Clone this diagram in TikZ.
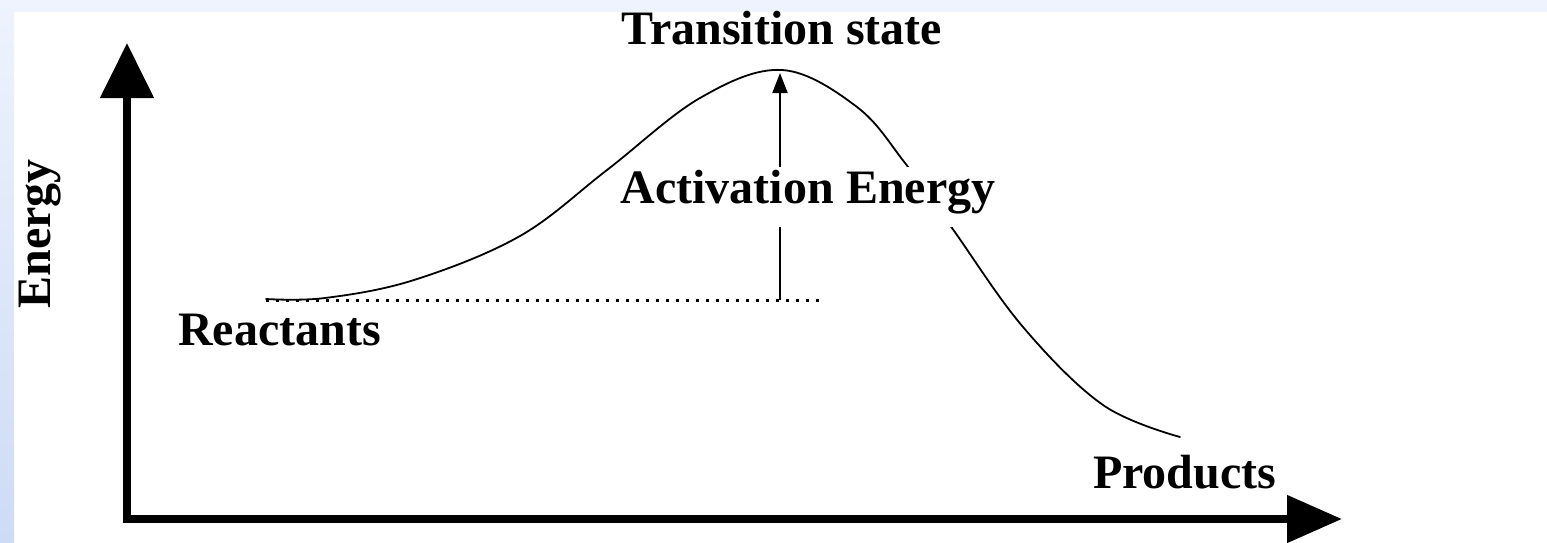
\documentclass[tikz,border=0pt]{standalone}
\usepackage{fontspec}
\setmainfont{Liberation Serif}
\usetikzlibrary{arrows.meta}
\definecolor{bandtop}{HTML}{EEF3FD}
\definecolor{bandbot}{HTML}{CEDBF5}
\begin{document}
\begin{tikzpicture}[x=1pt,y=-1pt,
  lbl/.style={font=\fontsize{48}{58}\selectfont\bfseries, inner sep=0pt},
  axisline/.style={line width=8pt, line join=miter},
  curveline/.style={line width=1.8pt, line join=round, line cap=round},
  dotline/.style={line width=3pt, dash pattern=on 3pt off 7pt},
  aearrow/.style={line width=2pt, -{Triangle[length=20pt,width=15pt]}}]
\useasboundingbox (0,0) rectangle (1547,543);
\fill[white] (0,0) rectangle (1547,543);
% background bands
\fill[bandtop] (0,0) rectangle (1547,12);
\shade[top color=bandtop, bottom color=bandbot] (0,0) rectangle (14,543);
% axes
\coordinate (ytip) at (127,43);
\coordinate (xtip) at (1342,519);
\draw[axisline, {Triangle[length=55pt,width=52pt]}-{Triangle[length=55pt,width=46pt]}] (ytip) |- (xtip);
% energy curve
\draw[curveline] plot[smooth, tension=0.6] coordinates {
 (266,299) (325,298) (414,280) (520,236) (607,170) (700,98) (782,70)
 (857,107) (905,163) (952,228) (1023,327) (1103,405) (1180,437)};
% reactant level
\coordinate (lvl0) at (266,300);
\coordinate (lvl1) at (823,300);
\draw[dotline] (lvl0) -- (lvl1);
% activation energy arrow
\coordinate (aebase) at (780,300);
\coordinate (tstop) at (780,73);
\draw[aearrow] (aebase) -- (tstop);
% labels
\node[lbl, anchor=base] (ts) at (782,45) {Transition state};
\node[lbl, anchor=base, fill=white, text height=36pt, text depth=24pt, inner xsep=6pt] (ae) at (808,203) {Activation Energy};
\node[lbl, anchor=base west] (reac) at (178,345) {Reactants};
\node[lbl, anchor=base west] (prod) at (1093,488) {Products};
\node[lbl, anchor=base, rotate=90] (en) at (50,234) {Energy};
\end{tikzpicture}
\end{document}
